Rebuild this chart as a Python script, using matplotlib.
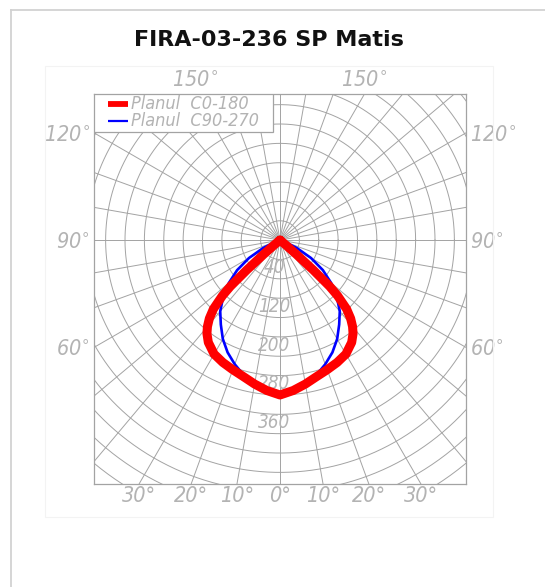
import numpy as np
import matplotlib.pyplot as plt
from matplotlib.patches import Rectangle

title = "FIRA-03-236 SP Matis"
series_labels = ["Planul  C0-180", "Planul  C90-270"]

# angle from nadir (deg) -> intensity
c0_angles = [0, 5, 10, 15, 20, 25, 30, 35, 38, 40, 42, 44, 46, 47, 48, 49, 50, 52, 180]
c0_values = [320, 312, 302, 292, 285, 279, 272, 258, 245, 233, 218, 198, 165, 140, 93, 45, 17, 0, 0]
c90_angles = [0, 10, 15, 20, 25, 30, 35, 40, 45, 50, 55, 60, 65, 70, 75, 180]
c90_values = [318, 302, 289, 273, 256, 236, 213, 192, 166, 138, 108, 74, 38, 10, 0, 0]

ring_step = 40
ring_labels = [40, 120, 200, 280, 360]
spoke_step = 10
bottom_ticks = [30, 20, 10, 0, 10, 20, 30]
side_ticks = [120, 90, 60]
top_ticks = [150, 150]

# plot window in intensity units (centre of the diagram = lamp)
x_lim = (-384, 384)
y_lim = (-504, 302)

grid_col = "#a3a3a3"
text_col = "#b3b3b3"
narrow = dict(family="DejaVu Sans", stretch="condensed", style="italic", color=text_col)


def to_xy(angles, values, side=1):
    a = np.radians(np.asarray(angles, dtype=float))
    r = np.asarray(values, dtype=float)
    return side * r * np.sin(a), -r * np.cos(a)


def full_curve(angles, values):
    xl, yl = to_xy(angles[::-1], values[::-1], side=-1)
    xr, yr = to_xy(angles, values, side=1)
    return np.concatenate([xl, xr]), np.concatenate([yl, yr])


fig = plt.figure(figsize=(5.45, 5.87), dpi=100)
W, H = 545, 587

# card outline and faint picture outline
fig.add_artist(plt.Line2D([11 / W, 1], [1 - 10 / H] * 2, transform=fig.transFigure,
                          color="#d2d2d2", lw=1.3))
fig.add_artist(plt.Line2D([11 / W] * 2, [0, 1 - 10 / H], transform=fig.transFigure,
                          color="#d2d2d2", lw=1.3))
fig.add_artist(Rectangle((45 / W, 1 - 517 / H), 448 / W, 451 / H, transform=fig.transFigure,
                         fill=False, edgecolor="#f3f3f3", lw=0.8))

fig.text(269 / W, 1 - 40 / H, title, ha="center", va="center",
         fontsize=16, fontweight="bold", family="DejaVu Sans", color="#111111")

ax = fig.add_axes([94 / W, 1 - 484 / H, 372 / W, 390 / H])
ax.set_xlim(*x_lim)
ax.set_ylim(*y_lim)
ax.set_xticks([])
ax.set_yticks([])
for sp in ax.spines.values():
    sp.set_color(grid_col)
    sp.set_linewidth(0.9)

# rings
t = np.linspace(0, 2 * np.pi, 400)
for rv in range(ring_step, 1000, ring_step):
    ax.plot(rv * np.cos(t), rv * np.sin(t), color=grid_col, lw=0.7, zorder=1)

# spokes
for a in range(0, 360, spoke_step):
    ar = np.radians(a)
    ax.plot([0, 1000 * np.sin(ar)], [0, -1000 * np.cos(ar)], color=grid_col, lw=0.7, zorder=1)

# ring values
for v in ring_labels:
    ax.text(-12, -(v + 17), str(v), ha="center", va="center", fontsize=13.5, zorder=2, **narrow)

# curves
bx, by = full_curve(c90_angles, c90_values)
rx, ry = full_curve(c0_angles, c0_values)
ax.plot(bx, by, color="#0000ff", lw=1.9, zorder=3)
ax.plot(rx, ry, color="#ff0000", lw=6.5, zorder=4, solid_joinstyle="round",
        solid_capstyle="round")

# legend box in the top-left corner of the frame
px = lambda v: v / 372
py = lambda v: 1 - v / 390
ax.add_patch(Rectangle((0, py(38)), px(179), 38 / 390, transform=ax.transAxes,
                       facecolor="white", edgecolor=grid_col, lw=0.9, zorder=5))
for i, (lab, col, lw) in enumerate(zip(series_labels, ["#ff0000", "#0000ff"], [4.2, 1.6])):
    yy = py(10 + 17 * i)
    ax.plot([px(14), px(34)], [yy, yy], color=col, lw=lw, transform=ax.transAxes,
            solid_capstyle="butt", zorder=6)
    ax.text(px(37), yy, lab, ha="left", va="center", fontsize=13, transform=ax.transAxes,
            zorder=6, **narrow)

# angle labels round the frame
bottom_angles = [-30, -20, -10, 0, 10, 20, 30]
for a, lab in zip(bottom_angles, bottom_ticks):
    x = -y_lim[0] * np.tan(np.radians(a))
    ax.text(x, y_lim[0] - 24, f"{lab}°", ha="center", va="center", fontsize=15.5,
            clip_on=False, **narrow)

for a, lab in zip([60, 90, 120], side_ticks[::-1]):
    y = -x_lim[1] / np.tan(np.radians(a)) if a != 90 else 0.0
    ax.text(x_lim[0] - 8, y - 6, f"{lab}$^{{\\circ}}$", ha="right", va="center", fontsize=15.5,
            clip_on=False, **narrow)
    ax.text(x_lim[1] + 8, y - 6, f"{lab}$^{{\\circ}}$", ha="left", va="center", fontsize=15.5,
            clip_on=False, **narrow)

for sgn, lab in zip([-1, 1], top_ticks):
    x = sgn * y_lim[1] * np.tan(np.radians(30))
    ax.text(x, y_lim[1] + 28, f"{lab}$^{{\\circ}}$", ha="center", va="center", fontsize=15.5,
            clip_on=False, **narrow)

fig.savefig("out.png", dpi=100)
plt.close()
